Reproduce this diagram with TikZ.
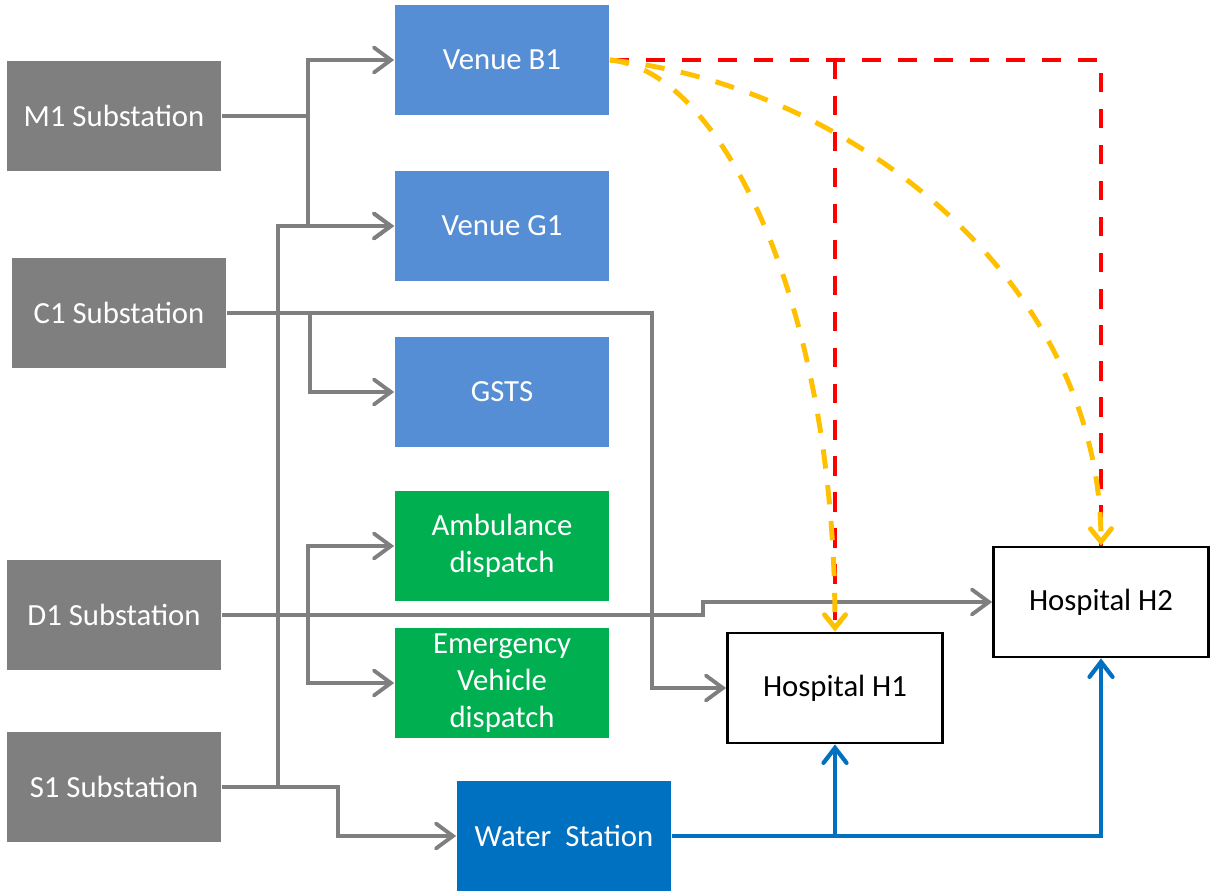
\documentclass[tikz,border=0pt]{standalone}
\usepackage{fontspec}
\setmainfont{Carlito}
\usetikzlibrary{arrows.meta, positioning, calc}
\definecolor{subgray}{HTML}{7F7F7F}
\definecolor{venueblue}{HTML}{558ED5}
\definecolor{dispgreen}{HTML}{00B050}
\definecolor{waterblue}{HTML}{0070C0}
\definecolor{linkorange}{HTML}{FFC000}

\begin{document}
\begin{tikzpicture}[x=0.02cm, y=-0.02cm,
    unit/.style={rectangle, minimum width=4.3cm, minimum height=2.2cm, inner sep=0pt, align=center, text=white, font=\fontsize{17.5}{21}\selectfont},
    substation/.style={unit, fill=subgray},
    venue/.style={unit, fill=venueblue},
    dispatch/.style={unit, fill=dispgreen},
    hospital/.style={unit, draw=black, line width=1.6pt, text=black, minimum width=4.3cm, minimum height=2.2cm},
    garrow/.style={-{Straight Barb[length=3.4mm, width=5mm, line cap=round]}, draw=subgray, line width=2.2pt},
    barrow/.style={-{Straight Barb[length=3mm, width=4.6mm, line cap=round]}, draw=waterblue, line width=2.4pt},
    rline/.style={draw=red, line width=2.8pt, dash pattern=on 11pt off 9.5pt},
    oarrow/.style={-{Straight Barb[length=2.6mm, width=4.2mm, line cap=round]}, draw=linkorange, line width=2.8pt, dash pattern=on 11pt off 9.5pt}
]
    \useasboundingbox (0,0) rectangle (1212,895);

    % Substations
    \node[substation] (m1) at (114,116) {M1 Substation};
    \node[substation] (c1) at (119,313) {C1 Substation};
    \node[substation] (d1) at (114,615) {D1 Substation};
    \node[substation] (s1) at (114,787) {S1 Substation};

    % Venues
    \node[venue] (b1) at (502,60) {Venue B1};
    \node[venue] (g1) at (502,226) {Venue G1};
    \node[venue] (gsts) at (502,392) {GSTS};

    % Dispatch
    \node[dispatch] (amb) at (502,546) {Ambulance\\dispatch};
    \node[dispatch] (ev) at (502,683) {Emergency\\Vehicle\\dispatch};

    % Water station
    \node[unit, fill=waterblue] (ws) at (564,836) {Water\ \ Station};

    % Hospitals
    \node[hospital] (h1) at (835,688) {Hospital H1};
    \node[hospital] (h2) at (1101,602) {Hospital H2};

    % Junctions
    \coordinate (mbus) at (308,116);
    \coordinate (sbus) at (278,787);
    \coordinate (cbus) at (310,313);
    \coordinate (dbus) at (308,615);

    % Power feeds
    \draw[garrow] (m1.east) -- (mbus) |- (b1.west);
    \draw[garrow] (mbus) |- (g1.west);
    \draw[garrow] (s1.east) -- (sbus) |- (g1.west);
    \draw[garrow] (sbus) -- ++(60,0) |- (ws.west);
    \draw[garrow] (c1.east) -- (652,313) |- (h1.west);
    \draw[garrow] (cbus) |- (gsts.west);
    \draw[garrow] (d1.east) -- (703,615) |- (h2.west);
    \draw[garrow] (dbus) |- (amb.west);
    \draw[garrow] (dbus) |- (ev.west);

    % Water supply
    \draw[barrow] (ws.east) -| (h2.south);
    \draw[barrow] (ws.east -| h1.south) -- (h1.south);

    % Venue links
    \draw[rline] (b1.east) -| (h2.north);
    \draw[rline] (b1.east -| h1.north) -- (h1.north);
    \draw[oarrow] (b1.east) .. controls (720,70) and (835,300) .. (h1.north);
    \draw[oarrow] (b1.east) .. controls (850,85) and (1100,280) .. (h2.north);
\end{tikzpicture}
\end{document}
